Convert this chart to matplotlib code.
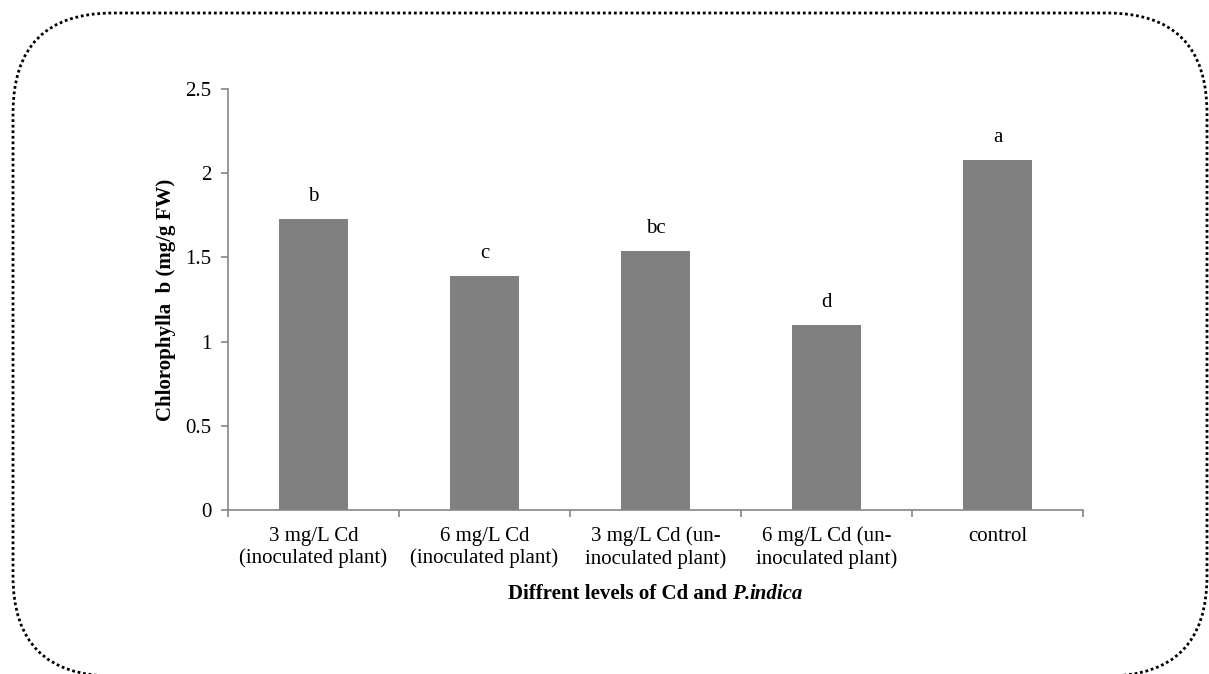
import matplotlib
matplotlib.use("Agg")
import matplotlib.pyplot as plt
from matplotlib.patches import FancyBboxPatch
from matplotlib.transforms import IdentityTransform
import numpy as np

categories = ["3 mg/L Cd\n(inoculated plant)", "6 mg/L Cd\n(inoculated plant)",
              "3 mg/L Cd (un-\ninoculated plant)", "6 mg/L Cd (un-\ninoculated plant)",
              "control"]
values = [1.73, 1.39, 1.54, 1.10, 2.08]
letters = ["b", "c", "bc", "d", "a"]
yticks = [0, 0.5, 1, 1.5, 2, 2.5]
ytick_labels = ["0", "0.5", "1", "1.5", "2", "2.5"]

plt.rcParams['font.family'] = ['Liberation Serif', 'DejaVu Serif']
FS = 15

W, H, DPI = 1209, 674, 100
fig = plt.figure(figsize=(W / DPI, H / DPI), dpi=DPI)
ax = fig.add_axes([228 / W, (H - 510) / H, (1083 - 228) / W, (510 - 89) / H])

x = np.arange(len(categories))
ax.bar(x, values, width=0.4, color="#808080", zorder=2)
for xi, v, l in zip(x, values, letters):
    ax.annotate(l, (xi, v), xytext=(0, 9), textcoords="offset points",
                ha="center", va="bottom", fontsize=FS)

ax.set_xlim(-0.5, len(categories) - 0.5)
ax.set_ylim(0, 2.5)
ax.set_yticks(yticks)
ax.set_yticklabels(ytick_labels, fontsize=FS)
ax.set_xticks(x)
ax.set_xticklabels(categories, fontsize=FS, linespacing=1.2)
ax.set_xticks(np.arange(-0.5, len(categories)), minor=True)
ax.tick_params(axis="x", which="major", length=0, pad=12)
ax.tick_params(axis="x", which="minor", length=5, color="#868686", width=1.2)
ax.tick_params(axis="y", length=5, color="#868686", width=1.2, pad=7)
for s in ["top", "right"]:
    ax.spines[s].set_visible(False)
for s in ["left", "bottom"]:
    ax.spines[s].set_color("#868686")
    ax.spines[s].set_linewidth(1.2)

ax.set_ylabel("Chlorophylla  b (mg/g FW)", fontsize=FS, fontweight="bold")
ax.yaxis.set_label_coords(-0.061, 0.5)

# x label: bold with bold-italic part (pieces placed side by side)
fig.canvas.draw()
r = fig.canvas.get_renderer()
parts = [("Diffrent levels of Cd and ", "normal", 0),
         ("P", "italic", 0),
         (".", "italic", 0),
         ("indica", "italic", -1)]
texts = []
widths = []
for s, st, gap in parts:
    t = fig.text(0, 0, s, fontsize=FS, fontweight="bold", style=st,
                 transform=IdentityTransform())
    texts.append(t)
    widths.append(t.get_window_extent(r).width + gap)
total = sum(widths)
cx = (228 + 1083) / 2
ypix = H - 599
xpos = cx - total / 2
for t, (s, st, gap), w in zip(texts, parts, widths):
    t.set_position((xpos + gap, ypix))
    xpos += w

# rounded dotted border
R = 100
left, right, bottom, top = 13, 1207, -2, H - 13
border = FancyBboxPatch((left + R, bottom + R), (right - left) - 2 * R, (top - bottom) - 2 * R,
                        boxstyle="round,pad=%d" % R, transform=IdentityTransform(),
                        fill=False, edgecolor="black", linestyle=(0, (1, 1)),
                        linewidth=2.0)
fig.patches.append(border)

fig.savefig("out.png", dpi=DPI)
